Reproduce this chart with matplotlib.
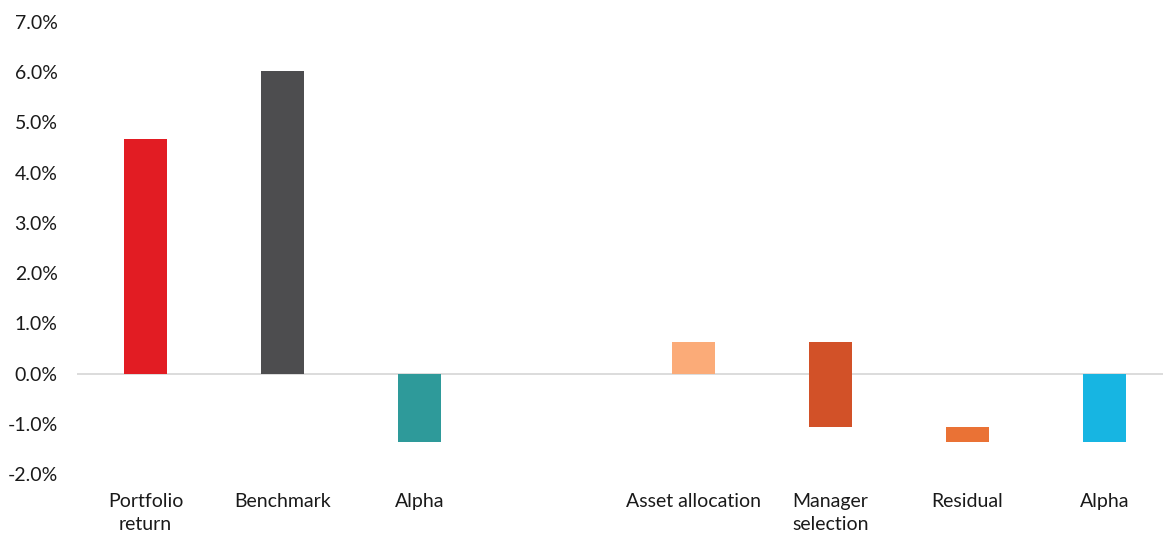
import matplotlib
matplotlib.use("Agg")
import matplotlib.pyplot as plt
import numpy as np

categories = ["Portfolio\nreturn", "Benchmark", "Alpha", "", "Asset allocation",
              "Manager\nselection", "Residual", "Alpha"]
# left group: plain bars
left_values = [4.67, 6.03, -1.36]
left_colors = ["#E21C23", "#4D4D4F", "#2E9A9A"]
# right group: attribution waterfall steps, then total alpha
step_values = [0.62, -1.69, -0.29]
step_colors = ["#FBAB78", "#D25128", "#EA7235"]
total_value = -1.36
total_color = "#17B5E2"
yticks = [-2, -1, 0, 1, 2, 3, 4, 5, 6, 7]

plt.rcParams['font.family'] = ['Lato', 'DejaVu Sans']

fig = plt.figure(figsize=(11.63, 5.35), dpi=100)
ax = fig.add_axes([77/1163, 61/535, 8*137/1163, (513-61)/535])

w = 0.32
x = np.arange(len(categories))
ax.bar(x[:3], left_values, width=w, color=left_colors, zorder=2)

bottoms = np.concatenate([[0], np.cumsum(step_values)[:-1]])
ax.bar(x[4:7], step_values, bottom=bottoms, width=w, color=step_colors, zorder=2)
ax.bar(x[7], total_value, width=w, color=total_color, zorder=2)

ax.axhline(0, color="#D9D9D9", lw=1.3, zorder=1)

ax.set_xlim(-0.5, 7.5)
ax.set_ylim(-2, 7)
ax.set_yticks(yticks)
ax.set_yticklabels([f"{v:.1f}%" for v in yticks], fontsize=14, color="#1a1a1a")
ax.set_xticks(x)
ax.set_xticklabels(categories, fontsize=14, color="#1a1a1a", linespacing=1.45, va="top")
ax.tick_params(axis="both", length=0)
ax.tick_params(axis="x", pad=13.5)
ax.tick_params(axis="y", pad=14)
for s in ax.spines.values():
    s.set_visible(False)

fig.savefig("out.png", dpi=100)
